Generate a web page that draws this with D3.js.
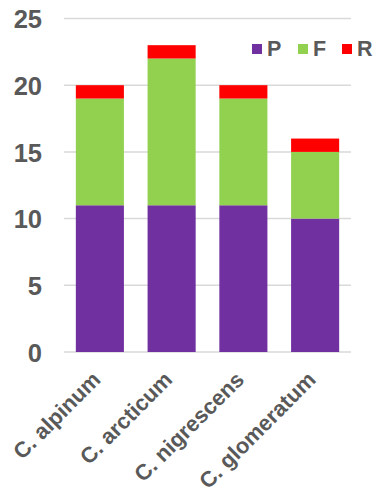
<!DOCTYPE html>
<html>
<head>
<meta charset="utf-8">
<script src="https://cdn.jsdelivr.net/npm/d3@7"></script>
<style>
  html, body { margin: 0; padding: 0; background: #fff; }
  svg { display: block; font-family: "Liberation Sans", Arial, sans-serif; }
</style>
</head>
<body>
<svg id="chart" width="379" height="494"></svg>
<script>
// Species and stacked counts per category
const species = ["C. alpinum", "C. arcticum", "C. nigrescens", "C. glomeratum"];
const seriesKeys = ["P", "F", "R"];
const valuesP = [11, 11, 11, 10];
const valuesF = [8, 11, 8, 5];
const valuesR = [1, 1, 1, 1];
const yTicks = [0, 5, 10, 15, 20, 25];
const colors = { P: "#7030a0", F: "#92d050", R: "#ff0000" };

const rows = species.map((s, i) => ({ name: s, P: valuesP[i], F: valuesF[i], R: valuesR[i] }));

const svg = d3.select("#chart");
const margin = { left: 64, right: 28, top: 18.5, bottom: 142 };
const W = 379, H = 494;

const x = d3.scaleBand()
  .domain(species)
  .range([margin.left, W - margin.right])
  .paddingInner(0.33)
  .paddingOuter(0.165);

const y = d3.scaleLinear()
  .domain([0, 25])
  .range([H - margin.bottom, margin.top]);

// Horizontal gridlines
svg.append("g")
  .selectAll("line")
  .data(yTicks)
  .join("line")
  .attr("x1", margin.left)
  .attr("x2", W - margin.right)
  .attr("y1", d => y(d))
  .attr("y2", d => y(d))
  .attr("stroke", "#d9d9d9")
  .attr("stroke-width", 1.5);

// Stacked bars
const stack = d3.stack().keys(seriesKeys);
const layers = stack(rows);

svg.append("g")
  .selectAll("g")
  .data(layers)
  .join("g")
  .attr("fill", d => colors[d.key])
  .selectAll("rect")
  .data(d => d)
  .join("rect")
  .attr("x", d => x(d.data.name))
  .attr("width", x.bandwidth())
  .attr("y", d => y(d[1]))
  .attr("height", d => y(d[0]) - y(d[1]));

// Y axis labels
const yAxis = d3.axisLeft(y).tickValues(yTicks).tickSize(0).tickPadding(0);
const gy = svg.append("g")
  .attr("transform", `translate(42,0)`)
  .call(yAxis);
gy.select(".domain").remove();
gy.selectAll("text")
  .attr("fill", "#595959")
  .attr("font-size", 25.5)
  .attr("font-weight", "bold")
  .attr("font-family", "Liberation Sans, Arial, sans-serif")
  .attr("dy", "0.36em");

// X axis labels, rotated
const xAxis = d3.axisBottom(x).tickSize(0).tickPadding(0);
const gx = svg.append("g")
  .attr("transform", `translate(0,${H - margin.bottom})`)
  .call(xAxis);
gx.select(".domain").remove();
gx.selectAll("text")
  .attr("fill", "#595959")
  .attr("font-size", 22)
  .attr("font-weight", "bold")
  .attr("font-family", "Liberation Sans, Arial, sans-serif")
  .attr("text-anchor", "end")
  .attr("dy", null)
  .attr("y", 0)
  .attr("transform", "translate(2,29) rotate(-45)");

// Legend
const legendX = [252, 298, 342];
const legend = svg.append("g");
seriesKeys.forEach((k, i) => {
  legend.append("rect")
    .attr("x", legendX[i])
    .attr("y", 44)
    .attr("width", 10)
    .attr("height", 10)
    .attr("fill", colors[k]);
  legend.append("text")
    .attr("x", legendX[i] + 15)
    .attr("y", 56)
    .attr("fill", "#595959")
    .attr("font-size", 21.5)
    .attr("font-weight", "bold")
    .text(k);
});
</script>
</body>
</html>
